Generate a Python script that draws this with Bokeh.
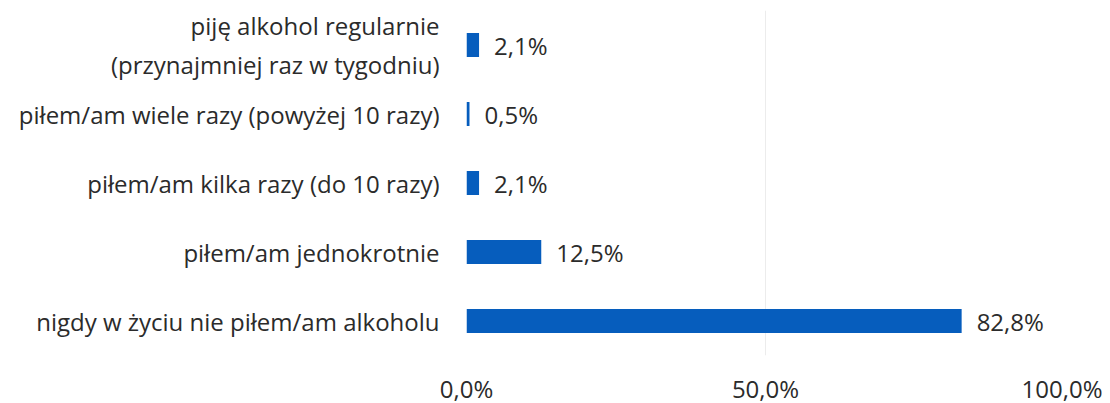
from bokeh.plotting import figure
from bokeh.models import ColumnDataSource, FixedTicker, FactorRange, Label
from bokeh.core.properties import value
from bokeh.embed import file_html
from bokeh.resources import INLINE

categories = [
    "piję alkohol regularnie\n(przynajmniej raz w tygodniu)",
    "piłem/am wiele razy (powyżej 10 razy)",
    "piłem/am kilka razy (do 10 razy)",
    "piłem/am jednokrotnie",
    "nigdy w życiu nie piłem/am alkoholu",
]
values = [2.1, 0.5, 2.1, 12.5, 82.8]
value_labels = ["2,1%", "0,5%", "2,1%", "12,5%", "82,8%"]
x_ticks = [0, 50, 100]
x_tick_labels = ["0,0%", "50,0%", "100,0%"]

FONT = "Open Sans"
TEXT_COLOR = "#2b2b2b"

src = ColumnDataSource(dict(cat=categories, val=values, lab=value_labels))

p = figure(
    y_range=FactorRange(*reversed(categories), range_padding=0),
    x_range=(0, 100),
    frame_width=598, frame_height=345,
    min_border_left=466, min_border_right=38, min_border_top=10, min_border_bottom=0,
    output_backend="svg", toolbar_location=None,
)
p.outline_line_color = None
p.background_fill_color = "white"

p.hbar(y="cat", right="val", left=0, height=0.35, source=src,
       fill_color="#065DBD", line_color=None)
p.text(x="val", y="cat", text="lab", source=src, x_offset=15,
       text_align="left", text_baseline="middle",
       text_font=value(FONT), text_font_size="24px", text_color=TEXT_COLOR)

# y axis: single-line labels right-aligned; the two-line label is centred separately
multi = [c for c in categories if "\n" in c]
p.yaxis.major_label_overrides = {c: "" for c in multi}
p.yaxis.axis_line_color = None
p.yaxis.major_tick_line_color = None
p.yaxis.major_tick_out = 0
p.yaxis.major_label_standoff = 27
p.yaxis.major_label_text_font = FONT
p.yaxis.major_label_text_font_size = "24px"
p.yaxis.major_label_text_color = TEXT_COLOR

n = len(categories)
LINE_GAP = 34
for c in multi:
    # synthetic categorical coordinate of factor c (factors listed bottom-to-top)
    y_syn = n - categories.index(c) - 0.5
    lines = c.split("\n")
    k = len(lines)
    for i, line in enumerate(lines):
        off = ((k - 1) / 2 - i) * LINE_GAP
        p.add_layout(Label(x=0, y=y_syn, text=line, x_offset=-194, y_offset=off,
                           text_align="center", text_baseline="middle",
                           text_font=FONT, text_font_size="24px", text_color=TEXT_COLOR))

p.xaxis.ticker = FixedTicker(ticks=x_ticks)
p.xaxis.major_label_overrides = {t: l for t, l in zip(x_ticks, x_tick_labels)}
p.xaxis.axis_line_color = None
p.xaxis.major_tick_line_color = None
p.xaxis.minor_tick_line_color = None
p.xaxis.major_label_standoff = 10
p.xaxis.major_label_text_font = FONT
p.xaxis.major_label_text_font_size = "24px"
p.xaxis.major_label_text_color = TEXT_COLOR

p.xgrid.grid_line_color = "#ececec"
p.ygrid.grid_line_color = None

open("out.html", "w").write(file_html(p, INLINE))
